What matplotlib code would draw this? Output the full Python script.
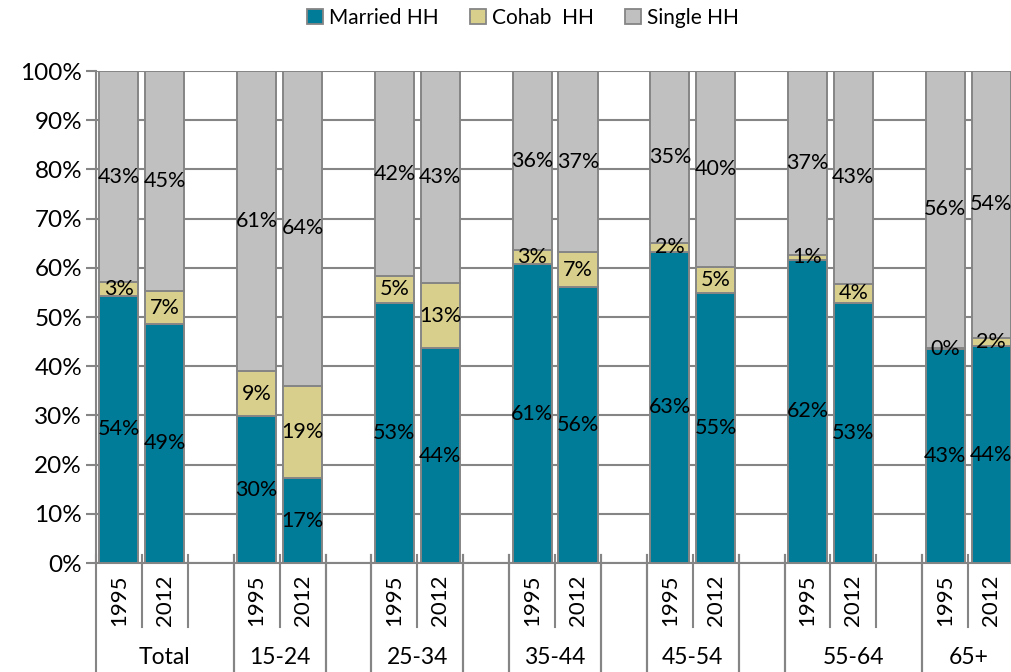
import matplotlib
matplotlib.use("Agg")
import matplotlib.pyplot as plt
from matplotlib.patches import Patch
from matplotlib.transforms import blended_transform_factory

plt.rcParams['font.family'] = ['Lato', 'DejaVu Sans']

# ---- data ----
groups = ["Total", "15-24", "25-34", "35-44", "45-54", "55-64", "65+"]
years = ["1995", "2012"]
married = [54.3, 48.6, 29.8, 17.2, 52.9, 43.6, 60.7, 56.1, 63.3, 54.8, 61.6, 52.8, 43.4, 44.1]
cohab = [2.8, 6.6, 9.2, 18.8, 5.4, 13.4, 2.9, 7.1, 1.7, 5.4, 1.0, 4.0, 0.3, 1.7]
single = [42.9, 44.8, 61.0, 64.0, 41.7, 43.0, 36.4, 36.8, 35.0, 39.8, 37.4, 43.2, 56.3, 54.2]
series_names = ["Married HH", "Cohab  HH", "Single HH"]
colors = ["#007B98", "#D8CF8C", "#C0C0C0"]
ytick_vals = [0, 10, 20, 30, 40, 50, 60, 70, 80, 90, 100]
# outer category label spans in slot units (Excel-style layout)
outer_labels = ["Total", "15-24", "", "25-34", "", "35-44", "", "45-54", "", "55-64", "65+"]
outer_spans = [3, 2, 1, 2, 1, 2, 1, 2, 1, 3, 2]

GRID = "#858585"
W, H = 1012, 672
fig = plt.figure(figsize=(W / 100, H / 100), dpi=100)
ax_left, ax_right, ax_bottom, ax_top = 96, 1060, 563, 71
ax = fig.add_axes([ax_left / W, (H - ax_bottom) / H, (ax_right - ax_left) / W, (ax_bottom - ax_top) / H])

nslots = 21
ax.set_xlim(0, nslots)
ax.set_ylim(0, 100)

# bar positions: each group occupies 3 slots (2 bars + gap)
xs = []
for gi, g in enumerate(groups):
    for yi, y in enumerate(years):
        xs.append(gi * 3 + yi + 0.5)

bottom = [0.0] * len(xs)
for name, vals, col in zip(series_names, [married, cohab, single], colors):
    ax.bar(xs, vals, bottom=bottom, width=0.85, color=col, edgecolor=GRID,
           linewidth=1.4, label=name, zorder=3)
    for x, b, v in zip(xs, bottom, vals):
        ax.text(x, b + v / 2, f"{v:.0f}%", ha="center", va="center",
                fontsize=15.5, color="black", zorder=5)
    bottom = [b + v for b, v in zip(bottom, vals)]

# y axis
ax.set_yticks(ytick_vals)
ax.set_yticklabels([f"{v}%" for v in ytick_vals], fontsize=17.5)
ax.yaxis.grid(True, color=GRID, linewidth=1.5, zorder=0)
ax.set_axisbelow(True)
ax.tick_params(axis="y", direction="out", length=7, width=1.5, color=GRID, pad=3)
ax.tick_params(axis="x", length=0, labelbottom=False)
for s in ["top", "right"]:
    ax.spines[s].set_visible(False)
for s in ["left", "bottom"]:
    ax.spines[s].set_color(GRID)
    ax.spines[s].set_linewidth(1.5)

# multi-level category axis
ph = ax_bottom - ax_top
def ay(py):
    return (ax_bottom - py) / ph

trans = blended_transform_factory(ax.transData, ax.transAxes)
year_label_y = ay(600)
outer_label_y = ay(658)
short_bottom = ay(627)
long_bottom = ay(700)
tick_top = ay(555)

pos = 0
for lab, span in zip(outer_labels, outer_spans):
    for xb in (pos, pos + span):
        ax.plot([xb, xb], [tick_top, long_bottom], transform=trans, color=GRID,
                lw=1.5, clip_on=False, zorder=4)
    for k in range(1, span):
        ax.plot([pos + k, pos + k], [tick_top, short_bottom], transform=trans, color=GRID,
                lw=1.5, clip_on=False, zorder=4)
    if lab:
        ax.text(pos + span / 2, outer_label_y, lab, transform=trans, ha="center",
                va="center", fontsize=16.5)
    pos += span

for gi, g in enumerate(groups):
    for yi, y in enumerate(years):
        ax.text(gi * 3 + yi + 0.5, year_label_y, y, transform=trans, rotation=90,
                ha="center", va="center", fontsize=16)

# legend
handles = [Patch(facecolor=c, edgecolor=GRID, linewidth=1.3, label=n)
           for n, c in zip(series_names, colors)]
fig.legend(handles=handles, loc="center", bbox_to_anchor=(523 / W, 1 - 18 / H),
           ncol=3, frameon=False, fontsize=15, handlelength=0.75, handleheight=0.75,
           handletextpad=0.3, columnspacing=1.5, borderaxespad=0)

fig.savefig("out.png", dpi=100)
